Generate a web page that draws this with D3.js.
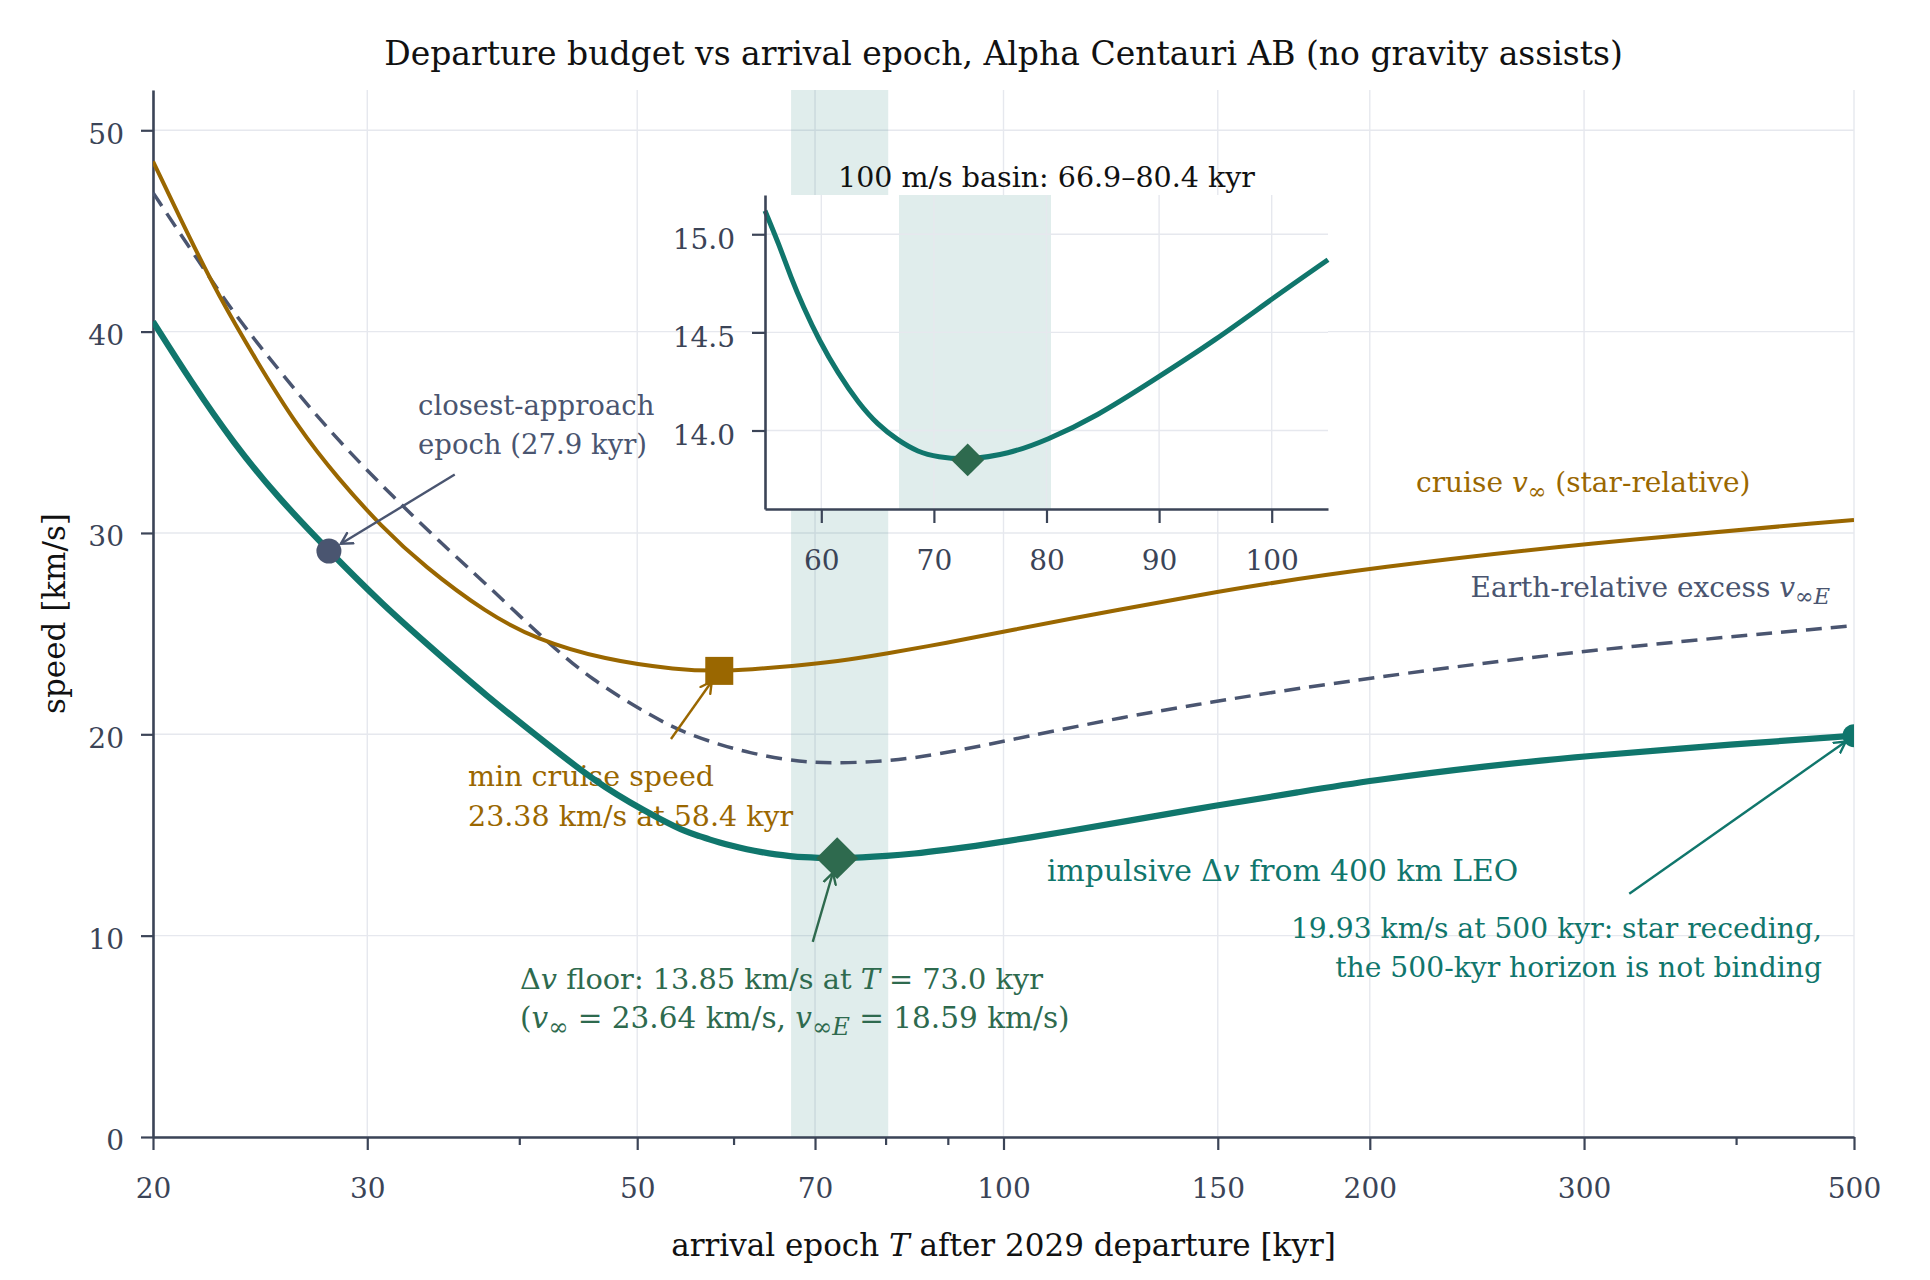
<!DOCTYPE html>
<html>
<head>
<meta charset="utf-8">
<script src="https://cdn.jsdelivr.net/npm/d3@7"></script>
<style>
  body { margin: 0; background: #fff; }
  svg { display: block; }
</style>
</head>
<body>
<svg id="chart"></svg>
<script>
const width = 1930;
const height = 1280;
const margin = ({top: 90, right: 76, bottom: 143, left: 153});

// impulsive delta-v from 400 km LEO [km/s] vs arrival epoch [kyr]
const dvT = [20, 21.5, 23.3, 25.3, 27.9, 31, 33.5, 37.5, 42.5, 47, 52.5, 55, 56.3, 57.3, 58.4, 59.8, 61.5, 63.3, 65, 66.8, 68.6, 70.3, 73, 76.6, 80, 84.4, 89.6, 95, 100, 105, 112, 125, 150, 175, 200, 250, 300, 400, 500];
const dvV = [40.5, 37.5, 34.45, 31.8, 29.1, 26.35, 24.55, 21.95, 19.35, 17.3, 15.7, 15.12, 14.94, 14.78, 14.63, 14.46, 14.29, 14.14, 14.03, 13.95, 13.89, 13.865, 13.85, 13.88, 13.95, 14.07, 14.26, 14.46, 14.67, 14.87, 15.15, 15.64, 16.48, 17.13, 17.7, 18.44, 18.91, 19.52, 19.93];

// cruise v_inf (star-relative)
const cruiseT = [20, 21.5, 22.6, 24.3, 26.3, 28.4, 30.8, 33.4, 37.6, 41.3, 47, 54, 58.4, 62, 66.9, 73, 80, 90, 100, 126.5, 145, 162, 200, 300, 500];
const cruiseV = [48.45, 44.5, 41.88, 38.59, 35.25, 32.69, 30.33, 28.35, 26.02, 24.72, 23.7, 23.2, 23.14, 23.22, 23.38, 23.62, 24.0, 24.55, 25.1, 26.28, 26.92, 27.42, 28.25, 29.49, 30.65];

// Earth-relative excess v_infE
const earthT = [20, 21.55, 23.3, 25.3, 27.3, 29.6, 32, 34.7, 37.6, 41.7, 45.8, 51.9, 54.6, 58.3, 61.9, 66, 69, 72.4, 78, 84.3, 92, 103.6, 126.5, 145, 162, 200, 300, 500];
const earthV = [46.9, 43.95, 40.9, 38.2, 35.75, 33.45, 31.4, 29.35, 27.45, 24.85, 22.7, 20.75, 20.1, 19.5, 19.07, 18.76, 18.62, 18.57, 18.62, 18.81, 19.2, 19.85, 20.9, 21.5, 21.98, 22.8, 24.19, 25.4];

const xMajor = [20, 30, 50, 70, 100, 150, 200, 300, 500];
const xMinor = [40, 60, 80, 90, 400];
const yTicks = [0, 10, 20, 30, 40, 50];
const insetXTicks = [60, 70, 80, 90, 100];
const insetYTicks = [14.0, 14.5, 15.0];
const basin = [66.9, 80.4];

const closest = {T: 27.9, v: 29.1};
const minCruise = {T: 58.4, v: 23.15};
const dvFloor = {T: 73.0, v: 13.85};
const dvEnd = {T: 500, v: 19.93};

const teal = "#10766c", gold = "#9a6700", slate = "#4a5570", green = "#2e6a4e", ink = "#3b4457";
const font = "'DejaVu Serif', serif";

const zip = (a, b) => a.map((t, i) => ({T: t, v: b[i]}));
const dvData = zip(dvT, dvV);
const cruiseData = zip(cruiseT, cruiseV);
const earthData = zip(earthT, earthV);

var x = d3.scaleLog()
    .domain([20, 500])
    .range([margin.left, width - margin.right]);

var y = d3.scaleLinear()
    .domain([0, 52])
    .range([height - margin.bottom, margin.top]);

// inset box
const ib = ({left: 765, right: 1328, top: 195, bottom: 509});
var xi = d3.scaleLinear().domain([55, 105]).range([ib.left, ib.right]);
var yi = d3.scaleLinear().domain([13.6, 15.2]).range([ib.bottom, ib.top]);

const svg = d3.select("#chart")
    .attr("width", width)
    .attr("height", height)
    .attr("viewBox", [0, 0, width, height])
    .style("font-family", font);

const defs = svg.append("defs");
defs.append("clipPath").attr("id", "plotclip")
  .append("rect")
    .attr("x", margin.left).attr("y", margin.top)
    .attr("width", width - margin.left - margin.right)
    .attr("height", height - margin.top - margin.bottom);

function arrowMarker(id, color) {
  defs.append("marker")
      .attr("id", id)
      .attr("viewBox", "-12 -8 14 16")
      .attr("markerWidth", 14).attr("markerHeight", 16)
      .attr("markerUnits", "userSpaceOnUse")
      .attr("refX", 0).attr("refY", 0)
      .attr("orient", "auto")
    .append("path")
      .attr("d", "M-11,-6L0,0L-11,6")
      .attr("fill", "none")
      .attr("stroke", color)
      .attr("stroke-width", 2.4)
      .attr("stroke-linecap", "round");
}
arrowMarker("arr-slate", slate);
arrowMarker("arr-gold", gold);
arrowMarker("arr-green", green);
arrowMarker("arr-teal", teal);

// grid
svg.append("g")
    .attr("stroke", "#e6e8ee")
    .attr("stroke-width", 1.4)
  .call(g => g.selectAll("line.gx").data(xMajor).join("line")
      .attr("x1", d => x(d)).attr("x2", d => x(d))
      .attr("y1", y(52)).attr("y2", y(0)))
  .call(g => g.selectAll("line.gy").data(yTicks).join("line")
      .attr("x1", x(20)).attr("x2", x(500))
      .attr("y1", d => y(d)).attr("y2", d => y(d)));

// 100 m/s basin band
svg.append("rect")
    .attr("x", x(basin[0]))
    .attr("width", x(basin[1]) - x(basin[0]))
    .attr("y", y(52))
    .attr("height", y(0) - y(52))
    .attr("fill", teal)
    .attr("fill-opacity", 0.13);

// axes
var xAxis = g => g
    .attr("transform", `translate(0,${y(0)})`)
    .call(d3.axisBottom(x).tickValues(xMajor).tickFormat(d3.format("d"))
        .tickSize(13).tickSizeOuter(0).tickPadding(28))
    .call(g => g.append("g").call(d3.axisBottom(x).tickValues(xMinor).tickFormat("")
        .tickSize(8).tickSizeOuter(0)).call(g => g.select(".domain").remove()));

var yAxis = g => g
    .attr("transform", `translate(${x(20)},0)`)
    .call(d3.axisLeft(y).tickValues(yTicks).tickSize(12).tickSizeOuter(0).tickPadding(17))
    .call(g => g.selectAll(".tick text").attr("dy", "0.46em"));

function styleAxis(g) {
  g.selectAll("path.domain").attr("stroke", ink).attr("stroke-width", 2.6);
  g.selectAll(".tick line").attr("stroke", ink).attr("stroke-width", 2.2);
  g.selectAll(".tick text").attr("fill", ink).attr("font-size", 28).attr("font-family", font);
}
svg.append("g").call(xAxis).call(styleAxis);
svg.append("g").call(yAxis).call(styleAxis);

// chart title
svg.append("text")
    .attr("x", (x(20) + x(500)) / 2).attr("y", 65)
    .attr("text-anchor", "middle")
    .attr("font-size", 33).attr("fill", "#111")
    .text("Departure budget vs arrival epoch, Alpha Centauri AB (no gravity assists)");

// text with italic / subscript runs
function rich(parent, px, py, parts, opts) {
  const subScale = opts.sub || 0.72;
  const t = parent.append("text")
      .attr("x", px).attr("y", py)
      .attr("text-anchor", opts.anchor || "start")
      .attr("font-size", opts.size)
      .attr("fill", opts.color);
  let sub = false;
  parts.forEach(p => {
    const s = typeof p === "string" ? {t: p} : p;
    const ts = t.append("tspan").text(s.t);
    if (s.i) ts.attr("font-style", "italic");
    if (s.sub) ts.attr("font-size", opts.size * subScale);
    const want = !!s.sub;
    if (want !== sub) { ts.attr("dy", want ? opts.size * 0.25 : -opts.size * 0.25); sub = want; }
  });
  return t;
}

rich(svg, (x(20) + x(500)) / 2, 1256,
    ["arrival epoch ", {t: "T", i: true}, " after 2029 departure [kyr]"],
    {size: 31, color: "#111", anchor: "middle"});

svg.append("text")
    .attr("transform", `translate(65,${(y(0) + y(52)) / 2}) rotate(-90)`)
    .attr("text-anchor", "middle")
    .attr("font-size", 31).attr("fill", "#111")
    .text("speed [km/s]");

// annotation text (drawn under the curves)
const ann = svg.append("g");
rich(ann, 418, 415, ["closest-approach"], {size: 27.5, color: slate});
rich(ann, 418, 454, ["epoch (27.9 kyr)"], {size: 27.5, color: slate});
rich(ann, 468, 786, ["min cruise speed"], {size: 28.5, color: gold});
rich(ann, 468, 826, ["23.38 km/s at 58.4 kyr"], {size: 28.5, color: gold});
rich(ann, 520, 989, ["Δ", {t: "v", i: true}, " floor: 13.85 km/s at ", {t: "T", i: true}, " = 73.0 kyr"], {size: 28.8, color: green});
rich(ann, 520, 1028, ["(", {t: "v", i: true}, {t: "∞", sub: true}, " = 23.64 km/s, ", {t: "v", i: true}, {t: "∞", sub: true}, {t: "E", sub: true, i: true}, " = 18.59 km/s)"], {size: 29.5, color: green, sub: 0.82});
rich(ann, 1047, 881, ["impulsive Δ", {t: "v", i: true}, " from 400 km LEO"], {size: 29.8, color: teal});
rich(ann, 1822, 938, ["19.93 km/s at 500 kyr: star receding,"], {size: 28.2, color: teal, anchor: "end"});
rich(ann, 1822, 977, ["the 500-kyr horizon is not binding"], {size: 28.2, color: teal, anchor: "end"});
rich(ann, 1416, 492, ["cruise ", {t: "v", i: true}, {t: "∞", sub: true}, " (star-relative)"], {size: 28, color: gold, sub: 0.8});
rich(ann, 1830, 597, ["Earth-relative excess ", {t: "v", i: true}, {t: "∞", sub: true}, {t: "E", sub: true, i: true}], {size: 28, color: slate, anchor: "end", sub: 0.8});

// curves
const plot = svg.append("g").attr("clip-path", "url(#plotclip)");
const line = d3.line()
    .x(d => x(d.T))
    .y(d => y(d.v))
    .curve(d3.curveBasis);

plot.append("path").datum(earthData)
    .attr("d", line).attr("fill", "none")
    .attr("stroke", slate).attr("stroke-width", 3.5).attr("stroke-dasharray", "16,9");
plot.append("path").datum(cruiseData)
    .attr("d", line).attr("fill", "none")
    .attr("stroke", gold).attr("stroke-width", 4);
plot.append("path").datum(dvData)
    .attr("d", line).attr("fill", "none")
    .attr("stroke", teal).attr("stroke-width", 6.2);

// markers
plot.append("circle")
    .attr("cx", x(closest.T)).attr("cy", y(closest.v)).attr("r", 12.5)
    .attr("fill", slate);
plot.append("rect")
    .attr("x", x(minCruise.T) - 14).attr("y", y(minCruise.v) - 14)
    .attr("width", 28).attr("height", 28)
    .attr("fill", gold);
plot.append("path")
    .attr("transform", `translate(${x(dvFloor.T)},${y(dvFloor.v)}) rotate(45)`)
    .attr("d", d3.symbol(d3.symbolSquare, 880)())
    .attr("fill", green);
plot.append("circle")
    .attr("cx", x(dvEnd.T)).attr("cy", y(dvEnd.v)).attr("r", 11.5)
    .attr("fill", teal);

// arrows: from a text anchor (data space) to a marker, stopping short by `gap` px
const arrows = [
  {from: {T: 35.4, v: 32.9}, to: closest, gap: 14, id: "arr-slate", color: slate},
  {from: {T: 53.3, v: 19.77}, to: minCruise, gap: 13, id: "arr-gold", color: gold},
  {from: {T: 69.7, v: 9.69}, to: dvFloor, gap: 15, id: "arr-green", color: green},
  {from: {T: 326.8, v: 12.08}, to: dvEnd, gap: 10, id: "arr-teal", color: teal}
];
svg.append("g").selectAll("line").data(arrows).join("line")
    .each(function(d) {
      const x1 = x(d.from.T), y1 = y(d.from.v), x2 = x(d.to.T), y2 = y(d.to.v);
      const len = Math.hypot(x2 - x1, y2 - y1);
      d3.select(this)
        .attr("x1", x1).attr("y1", y1)
        .attr("x2", x2 - (x2 - x1) / len * d.gap)
        .attr("y2", y2 - (y2 - y1) / len * d.gap);
    })
    .attr("stroke", d => d.color)
    .attr("stroke-width", 2.4)
    .attr("marker-end", d => `url(#${d.id})`);

// ---- inset: zoom on the delta-v basin ----
const inset = svg.append("g");
inset.append("rect")
    .attr("x", ib.left).attr("y", ib.top)
    .attr("width", ib.right - ib.left).attr("height", ib.bottom - ib.top)
    .attr("fill", "#fff");
inset.append("rect")
    .attr("x", xi(basin[0])).attr("width", xi(basin[1]) - xi(basin[0]))
    .attr("y", ib.top).attr("height", ib.bottom - ib.top)
    .attr("fill", teal).attr("fill-opacity", 0.13);
inset.append("g")
    .attr("stroke", "#e6e8ee").attr("stroke-width", 1.4)
  .call(g => g.selectAll("line.vx").data(insetXTicks).join("line")
      .attr("x1", d => xi(d)).attr("x2", d => xi(d))
      .attr("y1", ib.top).attr("y2", ib.bottom))
  .call(g => g.selectAll("line.vy").data(insetYTicks).join("line")
      .attr("x1", ib.left).attr("x2", ib.right)
      .attr("y1", d => yi(d)).attr("y2", d => yi(d)));

const insetLine = d3.line()
    .x(d => xi(d.T))
    .y(d => yi(d.v))
    .curve(d3.curveBasis);
inset.append("path")
    .datum(dvData.filter(d => d.T >= 55 && d.T <= 105))
    .attr("d", insetLine).attr("fill", "none")
    .attr("stroke", teal).attr("stroke-width", 5);
inset.append("path")
    .attr("transform", `translate(${xi(dvFloor.T)},${yi(dvFloor.v)}) rotate(45)`)
    .attr("d", d3.symbol(d3.symbolSquare, 540)())
    .attr("fill", green);

inset.append("g")
    .attr("transform", `translate(0,${ib.bottom})`)
    .call(d3.axisBottom(xi).tickValues(insetXTicks).tickSize(14).tickSizeOuter(0).tickPadding(27))
    .call(styleAxis);
inset.append("g")
    .attr("transform", `translate(${ib.left},0)`)
    .call(d3.axisLeft(yi).tickValues(insetYTicks).tickFormat(d3.format(".1f"))
        .tickSize(13).tickSizeOuter(0).tickPadding(17))
    .call(g => g.selectAll(".tick text").attr("dy", "0.5em"))
    .call(styleAxis);

inset.append("text")
    .attr("x", (ib.left + ib.right) / 2).attr("y", 187)
    .attr("text-anchor", "middle")
    .attr("font-size", 28.5).attr("fill", "#111")
    .text(`100 m/s basin: ${basin[0]}–${basin[1]} kyr`);
</script>
</body>
</html>
